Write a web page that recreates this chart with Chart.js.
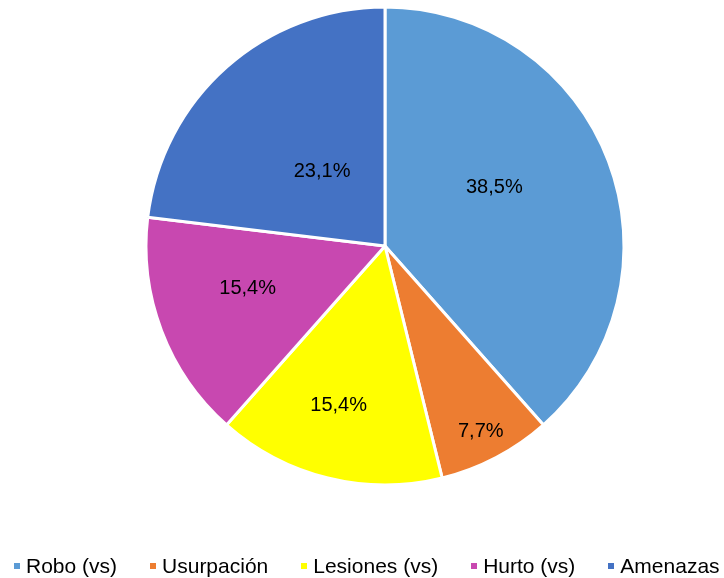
<!DOCTYPE html>
<html lang="es">
<head>
<meta charset="utf-8">
<title>Delitos por tipo</title>
<script src="https://cdn.jsdelivr.net/npm/chart.js@4/dist/chart.umd.min.js"></script>
<style>
  html, body { margin: 0; padding: 0; background: #fff; }
  #wrap { position: relative; width: 724px; height: 578px; overflow: hidden; }
  #chart { position: absolute; left: 0; top: 0; }
  #legend {
    position: absolute; left: 14px; top: 555px;
    display: flex; align-items: center; gap: 33px;
    font: 21px "Liberation Sans", Arial, Helvetica, sans-serif;
    line-height: 21px; color: #000; white-space: nowrap;
  }
  .item { display: flex; align-items: center; }
  .box { width: 6px; height: 6px; margin-right: 6px; }
</style>
</head>
<body>
<div id="wrap">
  <canvas id="chart" width="724" height="578"></canvas>
  <div id="legend"></div>
</div>
<script>
'use strict';

// Tipos de delito y su porcentaje sobre el total
const categories = ['Robo (vs)', 'Usurpación', 'Lesiones (vs)', 'Hurto (vs)', 'Amenazas'];
const percentages = [38.5, 7.7, 15.4, 15.4, 23.1];
const colors = ['#5B9BD5', '#ED7D31', '#FFFF00', '#C848B0', '#4472C4'];

// Where each value label sits inside its slice:
// t = fraction along the slice angle, r = fraction of the outer radius
const labelSpots = [
  { t: 0.445, r: 0.52 },
  { t: 0.51, r: 0.87 },
  { t: 0.545, r: 0.69 },
  { t: 0.574, r: 0.60 },
  { t: 0.519, r: 0.41 },
];

const fmt = v => v.toFixed(1).replace('.', ',') + '%';

/** Draws the percentage on top of each arc. */
const sliceLabels = {
  id: 'sliceLabels',
  afterDatasetsDraw(chart) {
    const { ctx } = chart;
    const meta = chart.getDatasetMeta(0);
    ctx.save();
    ctx.font = '20px "Liberation Sans", Arial, Helvetica, sans-serif';
    ctx.fillStyle = '#000';
    ctx.textAlign = 'center';
    ctx.textBaseline = 'middle';
    meta.data.forEach((arc, i) => {
      const { x, y, startAngle, endAngle, outerRadius } = arc.getProps(
        ['x', 'y', 'startAngle', 'endAngle', 'outerRadius'], true);
      const spot = labelSpots[i];
      const a = startAngle + (endAngle - startAngle) * spot.t;
      const d = outerRadius * spot.r;
      ctx.fillText(fmt(percentages[i]), x + Math.cos(a) * d, y + Math.sin(a) * d + 1);
    });
    ctx.restore();
  },
};

new Chart(document.getElementById('chart'), {
  type: 'pie',
  data: {
    labels: categories,
    datasets: [{
      data: percentages,
      backgroundColor: colors,
      borderColor: '#fff',
      borderWidth: 3,
    }],
  },
  options: {
    responsive: false,
    animation: false,
    radius: 239,
    layout: { padding: { left: 46, right: 0, top: 0, bottom: 86 } },
    plugins: {
      legend: { display: false },
      tooltip: { enabled: false },
    },
  },
  plugins: [sliceLabels],
});

// Legend row under the pie
const legend = document.getElementById('legend');
categories.forEach((name, i) => {
  const item = document.createElement('div');
  item.className = 'item';
  const box = document.createElement('span');
  box.className = 'box';
  box.style.background = colors[i];
  const text = document.createElement('span');
  text.textContent = name;
  item.append(box, text);
  legend.appendChild(item);
});
</script>
</body>
</html>
